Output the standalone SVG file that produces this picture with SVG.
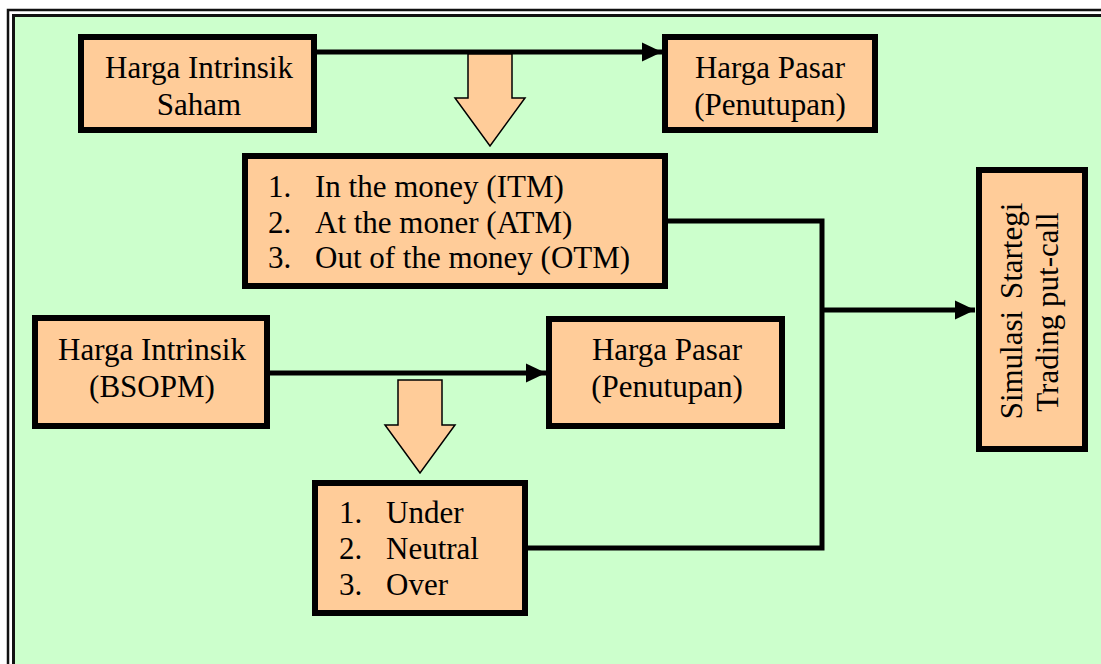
<svg xmlns="http://www.w3.org/2000/svg" width="1101" height="664" viewBox="0 0 1101 664">
<style>
.box{fill:#FFCC99;stroke:#000;stroke-width:6}
.t{font-family:"Liberation Serif","Times New Roman",serif;font-size:31px;fill:#000}
.c{text-anchor:middle}
.ln{fill:none;stroke:#000;stroke-width:5}
.blk{fill:#FFCC99;stroke:#000;stroke-width:1.5;stroke-linejoin:miter}
</style>
<defs>
<marker id="ah" markerUnits="userSpaceOnUse" markerWidth="22" markerHeight="22" viewBox="0 0 22 22" refX="20" refY="11" orient="auto">
<path d="M0,1.5 L20,11 L0,20.5 Z" fill="#000"/>
</marker>
</defs>
<rect x="0" y="0" width="1101" height="664" fill="#fff"/>
<rect x="8" y="10" width="1200" height="700" fill="none" stroke="#111" stroke-width="2.5"/>
<rect x="13.5" y="15.5" width="1200" height="700" fill="#CCFFCC" stroke="#111" stroke-width="3"/>
<g id="connectors">
<line class="ln" x1="317" y1="52" x2="662" y2="52" marker-end="url(#ah)"/>
<line class="ln" x1="270" y1="373" x2="546" y2="373" marker-end="url(#ah)"/>
<polyline class="ln" points="668,221 822,221 822,548 528,548"/>
<line class="ln" x1="822" y1="310" x2="975" y2="310" marker-end="url(#ah)"/>
<polygon class="blk" points="468,54 512,54 512,98 525,98 490,146 455,98 468,98"/>
<polygon class="blk" points="398,380 442,380 442,425 455,425 420,473 385,425 398,425"/>
</g>
<g id="node-harga-intrinsik-saham">
<rect class="box" x="81" y="37" width="233" height="93"/>
<text class="t c" x="199" y="78">Harga Intrinsik</text>
<text class="t c" x="199" y="115">Saham</text>
</g>
<g id="node-harga-pasar-1">
<rect class="box" x="665" y="37" width="210" height="93"/>
<text class="t c" x="770" y="78">Harga Pasar</text>
<text class="t c" x="770" y="115">(Penutupan)</text>
</g>
<g id="node-moneyness">
<rect class="box" x="245" y="156" width="420" height="130"/>
<text class="t" x="268" y="197">1.</text><text class="t" x="315" y="197">In the money (ITM)</text>
<text class="t" x="268" y="233">2.</text><text class="t" x="315" y="233">At the moner (ATM)</text>
<text class="t" x="268" y="268">3.</text><text class="t" x="315" y="268">Out of the money (OTM)</text>
</g>
<g id="node-harga-intrinsik-bsopm">
<rect class="box" x="35" y="318" width="232" height="108"/>
<text class="t c" x="152" y="360">Harga Intrinsik</text>
<text class="t c" x="152" y="397">(BSOPM)</text>
</g>
<g id="node-harga-pasar-2">
<rect class="box" x="549" y="319" width="233" height="107"/>
<text class="t c" x="667" y="360">Harga Pasar</text>
<text class="t c" x="667" y="397">(Penutupan)</text>
</g>
<g id="node-valuation">
<rect class="box" x="315" y="483" width="210" height="130"/>
<text class="t" x="339" y="523">1.</text><text class="t" x="386" y="523">Under</text>
<text class="t" x="339" y="559">2.</text><text class="t" x="386" y="559">Neutral</text>
<text class="t" x="339" y="595">3.</text><text class="t" x="386" y="595">Over</text>
</g>
<g id="node-simulasi">
<rect class="box" x="979" y="170" width="106" height="279"/>
<text class="t c" transform="translate(1022,311) rotate(-90)" x="0" y="0" style="word-spacing:4px">Simulasi Startegi</text>
<text class="t c" transform="translate(1058,312) rotate(-90)" x="0" y="0">Trading put-call</text>
</g>
</svg>
